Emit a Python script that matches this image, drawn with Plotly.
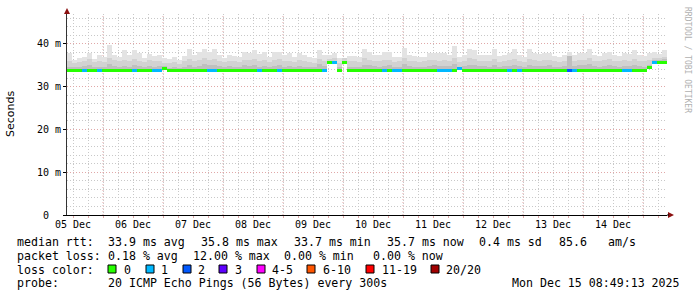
import plotly.graph_objects as go
from datetime import datetime, timedelta

# ---------------- data ----------------
START = datetime(2025, 12, 5, 9, 36)
END = datetime(2025, 12, 15, 9, 36)
STEP_HOURS = 2

X_TICK_DATES = ["2025-12-%02d 12:00" % d for d in range(5, 15)]
X_TICK_LABELS = ["05 Dec", "06 Dec", "07 Dec", "08 Dec", "09 Dec",
                 "10 Dec", "11 Dec", "12 Dec", "13 Dec", "14 Dec"]
DAY_LINES = ["2025-12-%02d 00:00" % d for d in range(6, 16)]

Y_TICK_VALS = [0, 10, 20, 30, 40]
Y_TICK_LABELS = ["0\u00a0\u00a0", "10 m", "20 m", "30 m", "40 m"]

# median rtt (ms) per 2h bin
median = [
    33.8, 33.8, 33.8, 33.8, 33.8, 33.8, 33.8, 33.8, 33.8, 33.8,
    33.8, 33.8, 33.8, 33.8, 33.8, 33.8, 33.8, 33.8, 33.8, 34.3,
    33.8, 33.8, 33.7, 33.8, 33.8, 33.8, 33.8, 33.8, 33.8, 33.8,
    33.8, 33.8, 33.8, 33.8, 33.8, 33.7, 33.8, 33.8, 33.8, 33.8,
    33.8, 33.8, 33.8, 33.8, 33.8, 33.8, 33.8, 33.8, 33.8, 33.8,
    33.8, 33.8, 35.7, 35.7, 33.8, 35.7, 33.8, 33.8, 33.8, 33.8,
    33.8, 33.8, 33.8, 33.8, 33.8, 33.8, 33.8, 33.8, 33.8, 33.8,
    33.8, 33.8, 33.8, 33.8, 33.8, 33.8, 33.8, 33.8, 34.3, 33.8,
    33.8, 33.8, 33.8, 33.8, 33.8, 33.8, 33.8, 33.8, 33.8, 33.8,
    33.8, 33.8, 33.8, 33.8, 33.8, 33.8, 33.8, 33.8, 33.8, 33.8,
    33.8, 33.8, 33.8, 33.8, 33.8, 33.8, 33.8, 33.8, 33.8, 33.8,
    33.8, 33.8, 33.8, 33.8, 33.8, 33.8, 34.6, 35.7, 35.7, 35.7,
]

# lost pings (loss colour class) per bin
loss = [
    0, 0, 0, 1, 0, 0, 1, 0, 0, 0,
    0, 0, 0, 1, 0, 0, 0, 1, 1, 0,
    0, 0, 0, 0, 0, 0, 0, 0, 1, 1,
    0, 0, 0, 0, 0, 0, 0, 0, 1, 0,
    0, 0, 1, 0, 0, 0, 0, 0, 0, 0,
    0, 1, 0, 1, 0, 0, 0, 0, 0, 0,
    0, 0, 0, 1, 0, 1, 1, 0, 0, 0,
    0, 0, 0, 0, 1, 1, 1, 0, 1, 0,
    0, 0, 0, 0, 0, 0, 0, 0, 1, 0,
    1, 0, 0, 0, 0, 0, 0, 0, 0, 0,
    2, 1, 0, 0, 0, 0, 0, 0, 0, 0,
    0, 1, 1, 0, 0, 0, 0, 1, 0, 0,
]

# smoke: highest ping per bin (ms)
smoke_max = [
    37.9, 36.3, 36.7, 37.0, 37.8, 36.5, 37.4, 37.0, 39.8, 37.4,
    37.0, 38.5, 37.4, 38.5, 37.8, 36.7, 37.6, 37.2, 37.4, 36.7,
    36.5, 37.0, 36.3, 37.2, 38.9, 37.4, 38.2, 38.9, 38.2, 38.9,
    37.4, 36.7, 37.4, 37.2, 37.0, 38.0, 37.8, 38.5, 37.6, 38.2,
    37.0, 38.2, 38.2, 37.4, 37.8, 36.9, 37.8, 37.4, 37.0, 36.7,
    38.5, 37.4, 37.4, 37.8, 36.7, 36.5, 37.2, 37.2, 37.0, 38.9,
    38.2, 37.4, 37.4, 38.0, 38.0, 37.0, 37.0, 39.0, 37.4, 37.2,
    37.0, 37.0, 37.8, 37.8, 37.8, 37.8, 37.4, 39.6, 37.0, 37.4,
    38.9, 38.5, 37.4, 37.4, 37.4, 38.9, 37.2, 37.4, 37.8, 38.9,
    37.4, 37.0, 38.9, 37.8, 37.6, 37.8, 37.8, 37.2, 37.0, 37.4,
    38.2, 37.4, 37.8, 37.8, 38.9, 37.4, 37.2, 37.8, 38.2, 37.4,
    37.2, 37.8, 37.6, 38.6, 37.4, 37.2, 37.8, 38.2, 37.6, 38.6,
]

# smoke: upper quartile-ish band
smoke_mid = [
    35.9, 35.6, 35.8, 36.1, 36.4, 35.7, 36.0, 35.8, 36.6, 36.2,
    35.9, 36.3, 36.0, 36.4, 36.1, 35.7, 36.2, 35.9, 36.0, 35.6,
    35.5, 35.8, 35.4, 35.9, 36.5, 36.0, 36.3, 36.6, 36.2, 36.5,
    36.0, 35.7, 36.1, 35.9, 35.8, 36.3, 36.2, 36.4, 36.0, 36.3,
    35.8, 36.2, 36.4, 36.0, 36.1, 35.7, 36.2, 36.0, 35.8, 35.6,
    36.4, 36.0, 36.5, 36.6, 35.6, 36.6, 35.9, 35.9, 35.8, 36.6,
    36.3, 36.0, 35.9, 36.2, 36.3, 35.8, 35.9, 36.6, 36.0, 35.9,
    35.8, 35.9, 36.2, 36.3, 36.1, 36.2, 36.0, 36.7, 35.7, 36.0,
    36.6, 36.4, 36.0, 36.1, 35.9, 36.5, 35.8, 36.0, 36.2, 36.5,
    36.0, 35.8, 36.5, 36.2, 36.1, 36.2, 36.3, 35.9, 35.8, 36.0,
    36.5, 36.1, 36.2, 36.3, 36.6, 36.0, 35.9, 36.2, 36.4, 36.0,
    35.9, 36.2, 36.1, 36.5, 36.0, 35.9, 36.2, 36.8, 36.6, 36.9,
]

# smoke: dense core band
smoke_dark = [
    34.7, 34.5, 34.6, 34.8, 35.0, 34.5, 34.7, 34.6, 35.2, 34.8,
    34.6, 34.9, 34.7, 35.0, 34.8, 34.5, 34.9, 34.7, 34.8, 34.9,
    34.4, 34.6, 34.3, 34.6, 35.1, 34.7, 34.9, 35.4, 35.0, 35.1,
    34.8, 34.5, 34.8, 34.7, 34.6, 35.0, 34.9, 35.0, 34.7, 34.9,
    34.6, 34.9, 35.0, 34.7, 34.8, 34.5, 34.9, 34.7, 34.6, 34.5,
    35.3, 34.8, 36.0, 36.1, 34.5, 36.0, 34.7, 34.7, 34.6, 35.1,
    35.0, 34.8, 34.7, 34.9, 35.0, 34.6, 34.7, 35.2, 34.8, 34.7,
    34.6, 34.7, 34.9, 35.0, 34.8, 34.9, 34.8, 35.3, 34.6, 34.8,
    35.1, 35.0, 34.8, 34.8, 34.7, 35.1, 34.6, 34.8, 34.9, 35.1,
    34.8, 34.6, 35.1, 34.9, 34.8, 34.9, 35.0, 34.7, 34.6, 34.8,
    37.2, 34.9, 35.0, 35.0, 35.2, 34.8, 34.7, 34.9, 35.1, 34.8,
    34.7, 34.9, 34.8, 35.1, 34.8, 34.7, 35.0, 36.3, 36.2, 36.4,
]

LOSS_LABELS = ["0", "1", "2", "3", "4-5", "6-10", "11-19", "20/20"]
LOSS_COLORS = ["#26ff00", "#00b8ff", "#0059ff", "#5e00ff",
               "#ff00ff", "#ff5500", "#ff0000", "#a10000"]

STATS_RTT = ["median rtt:", "33.9 ms avg", "35.8 ms max", "33.7 ms min",
             "35.7 ms now", "0.4 ms sd", "85.6", "am/s"]
STATS_LOSS = ["packet loss:", "0.18 % avg", "12.00 % max", "0.00 % min", "0.00 % now"]
PROBE_TEXT = ["probe:", "20 ICMP Echo Pings (56 Bytes) every 300s"]
STAMP = "Mon Dec 15 08:49:13 2025"

# ---------------- figure ----------------
W, H = 697, 297
L, R, T, B = 67, 30, 14, 82
PW, PH = W - L - R, H - T - B
Y_MAX = 47

def px(x):
    return (x - L) / PW

def py(y):
    return (T + PH - y) / PH

step = timedelta(hours=STEP_HOURS)
centers = [START + step * i + step / 2 for i in range(len(median))]
width_ms = STEP_HOURS * 3600 * 1000

fig = go.Figure()

def smoke(vals, color):
    fig.add_trace(go.Bar(
        x=centers, y=[v - m for v, m in zip(vals, median)], base=median,
        width=width_ms, marker=dict(color=color, line=dict(width=0)),
        hoverinfo="skip"))

smoke(smoke_max, "#e3e3e3")
smoke(smoke_mid, "#d2d2d2")
smoke(smoke_dark, "#bfbfbf")

LINE_H = 0.7
fig.add_trace(go.Bar(
    x=centers, y=[LINE_H] * len(median), base=[m - LINE_H / 2 for m in median],
    width=width_ms,
    marker=dict(color=[LOSS_COLORS[k] for k in loss], line=dict(width=0)),
    hoverinfo="skip"))

GRID = "#c8c8c8"
MGRID = "#e0a8a8"
DASH = "1px,2px"
MONO = "DejaVu Sans Mono"

for d in DAY_LINES:
    fig.add_shape(type="line", xref="x", yref="paper", x0=d, x1=d, y0=0, y1=1,
                  line=dict(color=MGRID, width=1, dash=DASH), layer="below")

shapes = []
ARROW = "#8b1010"
shapes.append(dict(type="path", xref="paper", yref="paper",
                   path="M %f %f L %f %f L %f %f Z" % (px(64), py(14), px(70), py(14), px(67), py(8)),
                   fillcolor=ARROW, line=dict(width=0)))
shapes.append(dict(type="path", xref="paper", yref="paper",
                   path="M %f %f L %f %f L %f %f Z" % (px(668), py(212), px(668), py(218), px(674), py(215)),
                   fillcolor=ARROW, line=dict(width=0)))
shapes.append(dict(type="line", xref="paper", yref="paper", x0=px(667), x1=px(669),
                   y0=py(215), y1=py(215), line=dict(color="#000", width=1)))

annotations = []

def text(s, x, y, anchor="left", size=11.6, color="#000", font=MONO, angle=0):
    annotations.append(dict(text=s, x=px(x), y=py(y), xref="paper", yref="paper",
                            xanchor=anchor, yanchor="middle", showarrow=False,
                            textangle=angle, borderpad=0,
                            font=dict(family=font, size=size, color=color)))

ROW = [241.5, 255.5, 269.5, 283]
for s, x in zip(STATS_RTT, [16, 107, 200, 293, 386, 478, 558, 607]):
    text(s, x, ROW[0])
for s, x in zip(STATS_LOSS, [16, 107, 192, 283, 372]):
    text(s, x, ROW[1])
text("loss color:", 16, ROW[2])
BOX_X = [108, 146, 183, 219, 257, 307, 366, 431]
LAB_X = [123, 160, 197, 234, 271, 322, 381, 445]
for lab, col, bx, lx in zip(LOSS_LABELS, LOSS_COLORS, BOX_X, LAB_X):
    shapes.append(dict(type="rect", xref="paper", yref="paper",
                       x0=px(bx), x1=px(bx + 8), y0=py(273), y1=py(265),
                       fillcolor=col, line=dict(color="#000", width=1)))
    text(lab, lx, ROW[2])
text(PROBE_TEXT[0], 16, ROW[3])
text(PROBE_TEXT[1], 107, ROW[3])
text(STAMP, 681, ROW[3], anchor="right")

text("Seconds", 11, 114, anchor="center", size=11, font="DejaVu Sans", angle=-90)
text("RRDTOOL / TOBI OETIKER", 687, 60, anchor="center", size=8, color="#b0b0b0", angle=90)

for s in shapes:
    fig.add_shape(**s)

fig.update_layout(
    width=W, height=H, margin=dict(l=L, r=R, t=T, b=B, autoexpand=False),
    paper_bgcolor="white", plot_bgcolor="white",
    barmode="overlay", bargap=0, showlegend=False,
    annotations=annotations,
    xaxis=dict(
        type="date", range=[START, END],
        tickvals=X_TICK_DATES, ticktext=X_TICK_LABELS,
        tickfont=dict(family=MONO, size=10, color="#000"),
        showgrid=True, gridcolor=GRID, griddash=DASH, gridwidth=1,
        minor=dict(dtick=6 * 3600 * 1000, tick0="2025-12-05 00:00",
                   showgrid=True, gridcolor=GRID, griddash=DASH, gridwidth=1,
                   ticks="outside", ticklen=2, tickcolor=MGRID),
        ticks="", showline=True, linecolor="#000", linewidth=1,
        zeroline=False, fixedrange=True,
    ),
    yaxis=dict(
        range=[0, Y_MAX],
        tickvals=Y_TICK_VALS, ticktext=Y_TICK_LABELS,
        tickfont=dict(family=MONO, size=10, color="#000"),
        showgrid=True, gridcolor=MGRID, griddash=DASH, gridwidth=1,
        minor=dict(dtick=2, showgrid=True, gridcolor=GRID, griddash=DASH, gridwidth=1),
        ticks="outside", ticklen=3, tickcolor="#000",
        showline=True, linecolor="#333", linewidth=1,
        zeroline=False, fixedrange=True,
    ),
)

fig.write_html("out.html")
